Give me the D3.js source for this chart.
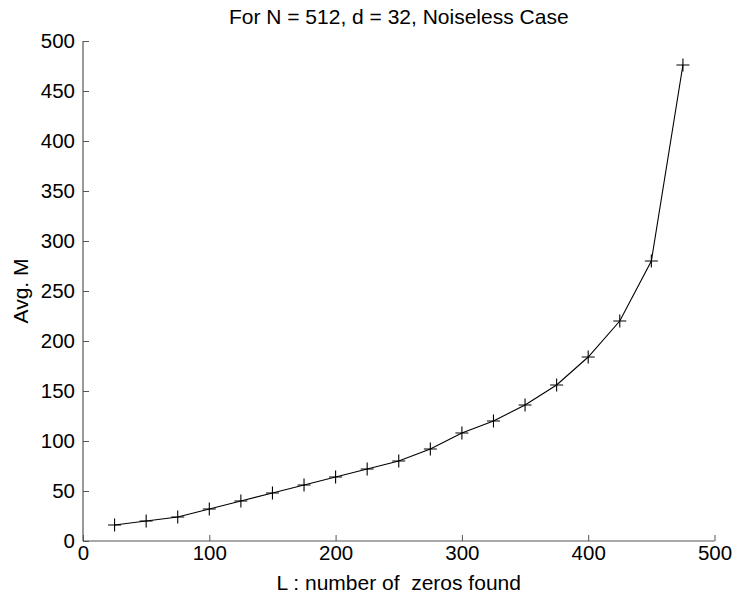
<!DOCTYPE html>
<html>
<head>
<meta charset="utf-8">
<script src="https://cdn.jsdelivr.net/npm/d3@7"></script>
<style>
  body { margin: 0; background: #fff; }
  svg text { font-family: "Liberation Sans", Arial, Helvetica, sans-serif; fill: #000; }
</style>
</head>
<body>
<div id="chart"></div>
<script>
// Average M against number of zeros found (N = 512, d = 32, noiseless)
const zerosFound = [25, 50, 75, 100, 125, 150, 175, 200, 225, 250, 275, 300, 325, 350, 375, 400, 425, 450, 475];
const avgM = [16, 20, 24, 32, 40, 48, 56, 64, 72, 80, 92, 108, 120, 136, 156, 184, 220, 280, 476];
const xTicks = [0, 100, 200, 300, 400, 500];
const yTicks = [0, 50, 100, 150, 200, 250, 300, 350, 400, 450, 500];

const width = 738, height = 598;
const margin = { top: 41, right: 23.5, bottom: 57, left: 83 };

const svg = d3.select("#chart").append("svg")
  .attr("width", width).attr("height", height);

const x = d3.scaleLinear().domain([0, 500]).range([margin.left, width - margin.right]);
const y = d3.scaleLinear().domain([0, 500]).range([height - margin.bottom, margin.top]);

const axisColor = "#555";
const tickFont = 20.5;

// x axis, ticks pointing into the plot
const gx = svg.append("g")
  .attr("transform", `translate(0,${y(0)})`)
  .call(d3.axisBottom(x).tickValues(xTicks).tickSize(-6).tickPadding(4).tickFormat(d3.format("d")));
gx.selectAll(".tick line").attr("stroke", axisColor);
gx.selectAll(".tick text").attr("font-size", tickFont).attr("dy", "0.71em");

// y axis, ticks pointing into the plot
const gy = svg.append("g")
  .attr("transform", `translate(${x(0)},0)`)
  .call(d3.axisLeft(y).tickValues(yTicks).tickSize(-6).tickPadding(8).tickFormat(d3.format("d")));
gy.selectAll(".tick line").attr("stroke", axisColor);
gy.selectAll(".tick text").attr("font-size", tickFont);

// plain axis lines without outer tick stubs
gx.select(".domain").attr("stroke", axisColor).attr("stroke-width", 1.2)
  .attr("d", `M${x(0)},0H${x(500)}`);
gy.select(".domain").attr("stroke", axisColor).attr("stroke-width", 1.2)
  .attr("d", `M0,${y(0)}V${y(500)}`);

const pts = zerosFound.map((v, i) => [v, avgM[i]]);

// connecting line
svg.append("path")
  .datum(pts)
  .attr("fill", "none")
  .attr("stroke", "#000")
  .attr("stroke-width", 1.1)
  .attr("d", d3.line().x(d => x(d[0])).y(d => y(d[1])));

// plus markers
const s = 6.5;
svg.append("g").selectAll("path.mark")
  .data(pts).join("path")
  .attr("class", "mark")
  .attr("fill", "none")
  .attr("stroke", "#000")
  .attr("stroke-width", 1.1)
  .attr("d", d => {
    const cx = x(d[0]), cy = y(d[1]);
    return `M${cx - s},${cy}H${cx + s}M${cx},${cy - s}V${cy + s}`;
  });

// title and axis labels
svg.append("text")
  .attr("x", (x(0) + x(500)) / 2).attr("y", 23.5)
  .attr("text-anchor", "middle").attr("font-size", 21)
  .text("For N = 512, d = 32, Noiseless Case");

svg.append("text")
  .attr("x", (x(0) + x(500)) / 2).attr("y", 590)
  .attr("text-anchor", "middle").attr("font-size", 21)
  .style("white-space", "pre")
  .text("L : number of  zeros found");

svg.append("text")
  .attr("transform", `translate(28,${y(250)}) rotate(-90)`)
  .attr("text-anchor", "middle").attr("font-size", 21)
  .text("Avg. M");
</script>
</body>
</html>
